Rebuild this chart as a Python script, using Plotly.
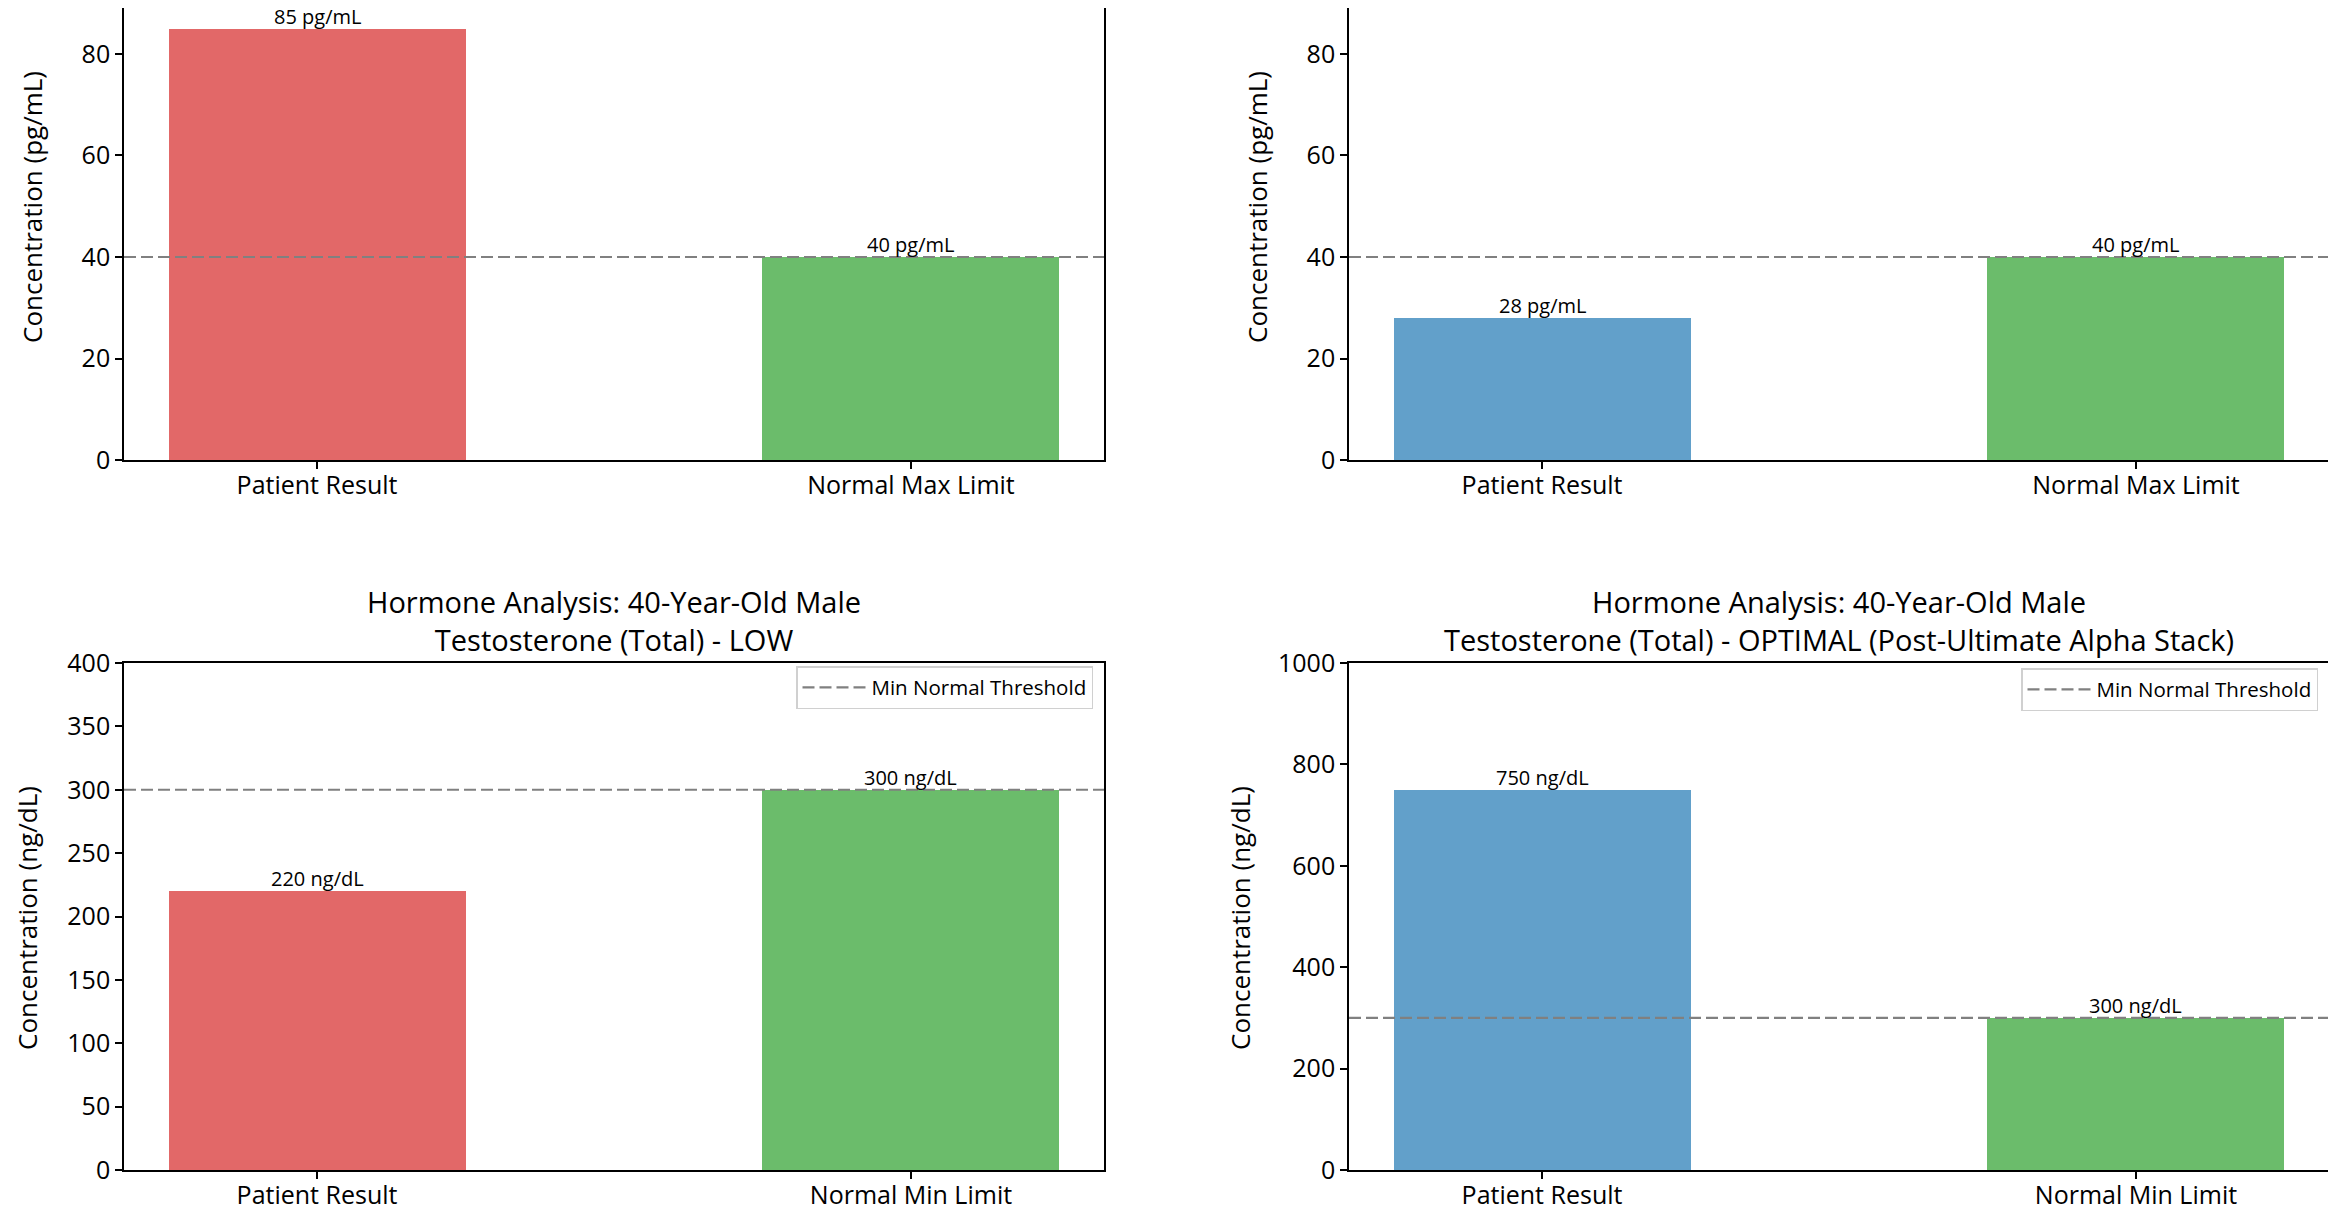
import plotly.graph_objects as go

W, H = 2336, 1220
FONT = "Open Sans"

# ---- data ----
categories_top = ["Patient Result", "Normal Max Limit"]
categories_bottom = ["Patient Result", "Normal Min Limit"]
panel1_values = [85, 40]
panel2_values = [28, 40]
panel3_values = [220, 300]
panel4_values = [750, 300]
thresholds = [40, 40, 300, 300]
units = ["pg/mL", "pg/mL", "ng/dL", "ng/dL"]
y_titles = ["Concentration (pg/mL)", "Concentration (pg/mL)",
            "Concentration (ng/dL)", "Concentration (ng/dL)"]
panel_titles = [None, None,
                "Hormone Analysis: 40-Year-Old Male<br>Testosterone (Total) - LOW",
                "Hormone Analysis: 40-Year-Old Male<br>Testosterone (Total) - OPTIMAL (Post-Ultimate Alpha Stack)"]
legend_label = "Min Normal Threshold"
y_ranges = [[0, 89.06], [0, 89.06], [0, 400], [0, 1000]]
y_dticks = [20, 20, 50, 200]

RED = "#e26868"
BLUE = "#62a0ca"
GREEN = "#6bbc6b"
patient_colors = [RED, BLUE, RED, BLUE]

values = [panel1_values, panel2_values, panel3_values, panel4_values]
cats = [categories_top, categories_top, categories_bottom, categories_bottom]

# ---- layout geometry (pixels) ----
def px_x(p):
    return p / W

def px_y(p):
    return (H - p) / H

x_doms = [[px_x(116), px_x(1096)], [px_x(1341), px_x(2321)],
          [px_x(116), px_x(1096)], [px_x(1341), px_x(2321)]]
y_doms = [[px_y(452), 1.0], [px_y(452), 1.0],
          [px_y(1162), px_y(655)], [px_y(1162), px_y(655)]]
ytitle_x = [24, 1249, 19, 1232]
ytitle_y = [199, 199, 910, 910]

fig = go.Figure()
annotations = []
layout = dict(
    width=W, height=H,
    autosize=False,
    margin=dict(l=0, r=0, t=0, b=0, pad=0, autoexpand=False),
    paper_bgcolor="white", plot_bgcolor="white",
    font=dict(family=FONT, size=25, color="black"),
    showlegend=True,
    bargap=0,
)

for i in range(4):
    n = i + 1
    xa = "x" if n == 1 else f"x{n}"
    ya = "y" if n == 1 else f"y{n}"
    xs = list(range(len(cats[i])))
    fig.add_trace(go.Bar(
        x=xs, y=values[i], width=0.5,
        marker=dict(color=[patient_colors[i], GREEN], line=dict(width=0)),
        xaxis=xa, yaxis=ya, showlegend=False, hoverinfo="skip",
    ))
    leg = None
    if i == 2:
        leg = "legend"
    elif i == 3:
        leg = "legend2"
    fig.add_trace(go.Scatter(
        x=[-0.325, 1.325], y=[thresholds[i], thresholds[i]],
        mode="lines", line=dict(color="#808080", width=2.2, dash="12px,5px"),
        xaxis=xa, yaxis=ya, name=legend_label,
        showlegend=leg is not None, legend=leg if leg else "legend",
        hoverinfo="skip",
    ))
    for xv, v in zip(xs, values[i]):
        annotations.append(dict(
            x=xv, y=v, xref=xa, yref=ya, text=f"{v} {units[i]}",
            showarrow=False, yanchor="bottom", xanchor="center", borderpad=0,
            font=dict(family=FONT, size=20, color="black"), yshift=-2,
        ))
    ax_common = dict(showline=True, linecolor="black", linewidth=1.6,
                     ticks="outside", ticklen=7, tickwidth=1.6, tickcolor="black",
                     showgrid=False, zeroline=False, automargin=False)
    layout["xaxis" if n == 1 else f"xaxis{n}"] = dict(
        domain=x_doms[i], range=[-0.325, 1.325], anchor=ya,
        tickvals=xs, ticktext=cats[i], mirror=(i >= 2),
        tickfont=dict(size=25), ticklabelstandoff=-5, **ax_common)
    layout["yaxis" if n == 1 else f"yaxis{n}"] = dict(
        domain=y_doms[i], range=y_ranges[i], anchor=xa, dtick=y_dticks[i],
        tick0=0, mirror=True, tickfont=dict(size=25), **ax_common)
    annotations.append(dict(
        x=px_x(ytitle_x[i]), y=px_y(ytitle_y[i]), xref="paper", yref="paper",
        text=y_titles[i], textangle=-90, showarrow=False,
        xanchor="center", yanchor="middle", font=dict(family=FONT, size=26)))
    if panel_titles[i]:
        annotations.append(dict(
            x=(x_doms[i][0] + x_doms[i][1]) / 2, y=px_y(612),
            xref="paper", yref="paper", text=panel_titles[i], showarrow=False,
            xanchor="center", yanchor="middle", align="center",
            font=dict(family=FONT, size=29)))

legend_style = dict(bgcolor="white", bordercolor="#d0d0d0", borderwidth=1.5,
                    font=dict(family=FONT, size=20.5), xanchor="right", yanchor="top",
                    itemwidth=64)
layout["legend"] = dict(x=px_x(1085), y=px_y(658), **legend_style)
layout["legend2"] = dict(x=px_x(2310), y=px_y(660), **legend_style)
layout["annotations"] = annotations

fig.update_layout(**layout)
fig.write_html("out.html")
